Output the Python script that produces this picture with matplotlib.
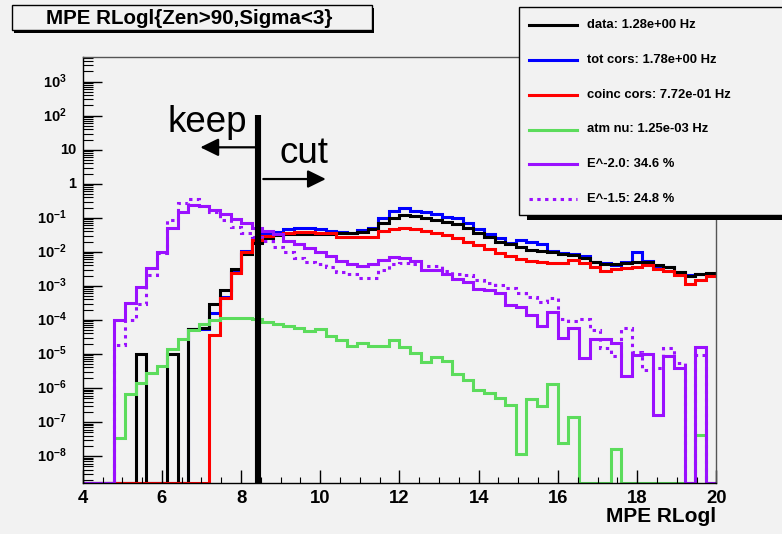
import numpy as np
import matplotlib
matplotlib.use("Agg")
import matplotlib.pyplot as plt
from matplotlib.patches import Rectangle
from matplotlib.lines import Line2D
from matplotlib.ticker import LogLocator, NullFormatter, MultipleLocator
import matplotlib.transforms as mtransforms

plt.rcParams['font.family'] = ['Liberation Sans', 'DejaVu Sans']
plt.rcParams['mathtext.fontset'] = 'custom'
plt.rcParams['mathtext.rm'] = 'Liberation Sans'
plt.rcParams['mathtext.bf'] = 'Liberation Sans:bold'

# ---------------- data ----------------
x_min, x_max, n_bins = 4.0, 20.0, 60
edges = np.linspace(x_min, x_max, n_bins + 1)

data = [0, 0, 0, 0, 0, 1e-5, 0, 0, 1e-5, 0, 5.3e-5, 5.6e-5, 2.95e-4, 7.6e-4, 3.1e-3,
        8.7e-3, 0.0186, 0.025, 0.0313, 0.0335, 0.0335, 0.0335, 0.0335, 0.0324, 0.035,
        0.0366, 0.0378, 0.0475, 0.069, 0.097, 0.121, 0.111, 0.102, 0.089, 0.077, 0.066,
        0.049, 0.0358, 0.0279, 0.0192, 0.0168, 0.0136, 0.0111, 0.0106, 0.0096, 0.0087,
        0.0081, 0.0068, 0.0050, 0.0045, 0.0044, 0.0046, 0.0050, 0.0049, 0.0041, 0.0036,
        0.0025, 0.0019, 0.0023, 0.0024]

tot_cors = [0] * 10 + [5.3e-5, 5.4e-5, 1.63e-4, 4.6e-4, 2.56e-3, 0.0108, 0.025, 0.035, 0.039,
                       0.046, 0.049, 0.049, 0.046, 0.0419, 0.039, 0.035, 0.0424, 0.050,
                       0.099, 0.164, 0.19, 0.164, 0.148, 0.129, 0.108, 0.097, 0.069,
                       0.0485, 0.0341, 0.025, 0.0176, 0.0223, 0.0199, 0.0167, 0.0108,
                       0.0090, 0.0087, 0.0074, 0.0049, 0.0046, 0.0042, 0.0050, 0.010,
                       0.0055, 0.0037, 0.0036, 0.0025, 0.0021, 0.0022, 0.0023]

coinc_cors = [0] * 12 + [3.6e-5, 4.3e-4, 2.47e-3, 0.010, 0.0216, 0.0296, 0.034, 0.037,
                         0.039, 0.039, 0.0366, 0.035, 0.0279, 0.0279, 0.0268, 0.0268,
                         0.0419, 0.046, 0.051, 0.046, 0.0419, 0.0366, 0.0313, 0.025,
                         0.0199, 0.0159, 0.0121, 0.0094, 0.0075, 0.0060, 0.0055, 0.0050,
                         0.0046, 0.0046, 0.0056, 0.0046, 0.0035, 0.0027, 0.0031, 0.0033,
                         0.0035, 0.0041, 0.0032, 0.0028, 0.0021, 0.00116, 0.0015, 0.0020]

atm_nu = [0, 0, 0, 3.5e-8, 6.5e-7, 1.4e-6, 2.7e-6, 4.5e-6, 1.4e-5, 2.8e-5, 5.1e-5, 7.5e-5,
          1.0e-4, 1.16e-4, 1.16e-4, 1.1e-4, 1.05e-4, 8.9e-5, 7.4e-5, 6.6e-5, 5.9e-5,
          4.8e-5, 5.3e-5, 3.4e-5, 2.6e-5, 1.7e-5, 2.1e-5, 1.7e-5, 1.7e-5, 2.6e-5, 1.58e-5,
          1.09e-5, 5.9e-6, 7.96e-6, 6.3e-6, 2.6e-6, 1.7e-6, 8.7e-7, 7.0e-7, 5.0e-7, 3.2e-7,
          1.15e-8, 4.6e-7, 2.95e-7, 1.28e-6, 2.4e-8, 1.4e-7, 0, 0, 0, 1.58e-8, 0, 0, 0, 0,
          0, 0, 0, 4.1e-8, 0]

e_m20 = [0, 0, 0, 1.0e-4, 3.1e-4, 9.5e-4, 3.3e-3, 1.0e-2, 5.1e-2, 0.15, 0.24, 0.22, 0.17,
         0.13, 0.093, 0.069, 0.050, 0.041, 0.034, 0.021, 0.017, 0.0126, 0.010, 0.0073,
         0.0054, 0.0045, 0.0038, 0.0044, 0.0056, 0.0072, 0.0065, 0.0053, 0.0030, 0.0030,
         0.0023, 0.0016, 0.0013, 8.1e-4, 7.6e-4, 6.1e-4, 2.7e-4, 2.4e-4, 1.4e-4, 6.6e-5,
         1.7e-4, 2.9e-5, 5.7e-5, 7.4e-6, 2.7e-5, 2.7e-5, 2.1e-5, 2.2e-6, 9.3e-6, 1.0e-5,
         1.6e-7, 8.7e-6, 3.8e-6, 0, 1.6e-5, 0]

e_m15 = [0, 0, 0, 1.8e-5, 1.0e-4, 2.9e-4, 2.1e-3, 9.4e-3, 0.087, 0.27, 0.35, 0.22, 0.15,
         0.087, 0.055, 0.036, 0.027, 0.021, 0.0139, 0.0096, 0.0068, 0.0052, 0.0044, 0.0036,
         0.0026, 0.0023, 0.0017, 0.0017, 0.0029, 0.0045, 0.0048, 0.0044, 0.0038, 0.0038,
         0.0027, 0.0023, 0.0021, 0.0015, 0.0012, 0.00106, 8.9e-4, 6.1e-4, 4.8e-4, 3.4e-4,
         4.3e-4, 1.06e-4, 9.3e-5, 1.04e-4, 5.1e-5, 1.5e-5, 8.8e-6, 5.9e-5, 1.16e-5, 3.3e-6,
         3.9e-6, 1.5e-5, 5.3e-6, 0, 9.6e-6, 0]

legend_labels = ["data: 1.28e+00 Hz", "tot cors: 1.78e+00 Hz", "coinc cors: 7.72e-01 Hz",
                 "atm nu: 1.25e-03 Hz", "E^-2.0: 34.6 %", "E^-1.5: 24.8 %"]
title = "MPE RLogl{Zen>90,Sigma<3}"
x_label = "MPE RLogl"
x_ticks = [4, 6, 8, 10, 12, 14, 16, 18, 20]
y_exponents = list(range(-8, 4))
cut_value = 8.43

# ---------------- style ----------------
BG = "#f2f2f2"
GREEN = "#5cdc5c"
PURPLE = "#9a10ff"
W, H = 782, 534
LW = 2.2
dotted = (0, (1.1, 1.45))

# legend order
series = [
    (data, "black", "-"),
    (tot_cors, "#0000ff", "-"),
    (coinc_cors, "#ff0000", "-"),
    (atm_nu, GREEN, "-"),
    (e_m20, PURPLE, "-"),
    (e_m15, PURPLE, dotted),
]
draw_order = [1, 0, 2, 3, 4, 5]

fig = plt.figure(figsize=(W / 100, H / 100), dpi=100, facecolor=BG)
ax_l, ax_r, ax_t, ax_b = 82.7, 716.3, 57.0, 482.7
ax = fig.add_axes([ax_l / W, 1 - ax_b / H, (ax_r - ax_l) / W, (ax_b - ax_t) / H], facecolor=BG)

ymin, ymax = 1.644e-9, 5.32e3
ax.set_yscale("log")
ax.set_xlim(x_min, x_max)
ax.set_ylim(ymin, ymax)

for i in draw_order:
    vals, color, ls = series[i]
    v = np.asarray(vals, dtype=float)
    v = np.where(v > 0, v, ymin)
    ax.stairs(v, edges, baseline=None, color=color, lw=LW, linestyle=ls)

# cut line, arrows, texts
ax.plot([cut_value, cut_value], [ymin, 105], color="black", lw=4.4, solid_capstyle="butt", zorder=5)
arrow = dict(arrowstyle="-|>,head_length=0.55,head_width=0.27", color="black", lw=1.6,
             mutation_scale=20, shrinkA=0, shrinkB=0)
ax.annotate("", xy=(6.97, 11.8), xytext=(8.35, 11.8), arrowprops=arrow, zorder=6)
ax.annotate("", xy=(10.14, 1.38), xytext=(8.56, 1.38), arrowprops=arrow, zorder=6)
ax.text(6.15, 34, "keep", fontsize=26.5, va="baseline", ha="left")
ax.text(8.98, 4.0, "cut", fontsize=26.5, va="baseline", ha="left")

# axes style
for s in ("left", "bottom"):
    ax.spines[s].set_color("black")
    ax.spines[s].set_linewidth(1.0)
for s in ("top", "right"):
    ax.spines[s].set_color("#555555")
    ax.spines[s].set_linewidth(1.0)

ax.set_yticks([10.0 ** k for k in y_exponents])
ax.yaxis.set_minor_locator(LogLocator(base=10, subs=np.arange(2, 10), numticks=40))
ax.yaxis.set_minor_formatter(NullFormatter())
ax.set_yticklabels([])
ax.tick_params(axis="y", which="major", direction="in", length=13.7, width=1.0, left=True, right=False)
ax.tick_params(axis="y", which="minor", direction="in", length=7.0, width=0.8, left=True, right=False)

ax.set_xticks(x_ticks)
ax.set_xticklabels([str(t) for t in x_ticks], fontsize=13.3, fontweight="bold")
ax.xaxis.set_minor_locator(MultipleLocator(0.5))
ax.tick_params(axis="x", which="major", direction="in", length=9.4, width=1.0, top=False, pad=5.0)
ax.tick_params(axis="x", which="minor", direction="in", length=4.5, width=0.8, top=False)

# manual y tick labels (ROOT style)
for k in y_exponents:
    if k == 0:
        lab, off = "1", -6.7
    elif k == 1:
        lab, off = "10", -6.7
    else:
        lab, off = r"$\mathbf{10^{%d}}$" % k, -16.0
    tr = mtransforms.blended_transform_factory(ax.transAxes, ax.transData) + \
        mtransforms.ScaledTranslation(off / 100, 0, fig.dpi_scale_trans)
    ax.text(0, 10.0 ** k, lab, transform=tr, ha="right", va="center",
            fontsize=10.5, fontweight="bold")

fig.text(716.5 / W, 1 - 517 / H, x_label, ha="right", va="center", fontsize=15, fontweight="bold")

# title box
tb = (11.7, 5.0, 371.7, 30.0)
fig.add_artist(Rectangle((tb[0] / W + 2.5 / W, 1 - (tb[3] + 2.5) / H), (tb[2] - tb[0]) / W,
                         (tb[3] - tb[1]) / H, transform=fig.transFigure, facecolor="black",
                         edgecolor="none", zorder=1))
fig.add_artist(Rectangle((tb[0] / W, 1 - tb[3] / H), (tb[2] - tb[0]) / W, (tb[3] - tb[1]) / H,
                         transform=fig.transFigure, facecolor=BG, edgecolor="black", lw=1.0, zorder=2))
fig.text((tb[0] + tb[2]) / 2 / W - 2.5 / W, 1 - 18.0 / H, title, ha="center", va="center",
         fontsize=14.8, fontweight="bold", zorder=3)

# legend box
lb = (519.3, 7.3, 800.0, 215.0)
fig.add_artist(Rectangle((526.7 / W, 1 - 219.5 / H), (lb[2] - 526.7) / W, 4.5 / H,
                         transform=fig.transFigure, facecolor="black", edgecolor="none", zorder=4))
fig.add_artist(Rectangle((lb[0] / W, 1 - lb[3] / H), (lb[2] - lb[0]) / W, (lb[3] - lb[1]) / H,
                         transform=fig.transFigure, facecolor=BG, edgecolor="black", lw=1.0, zorder=5))
row_y = [24.5, 59.8, 95.3, 129.5, 164.3, 199.3]
for (vals, color, ls), lab, yy in zip(series, legend_labels, row_y):
    fig.add_artist(Line2D([529 / W, 577 / W], [1 - yy / H, 1 - yy / H], transform=fig.transFigure,
                          color=color, lw=LW, linestyle=ls, zorder=6))
    fig.text(586.7 / W, 1 - yy / H, lab, ha="left", va="center", fontsize=9.4,
             fontweight="bold", zorder=7)

fig.savefig("out.png", dpi=100, facecolor=BG)
